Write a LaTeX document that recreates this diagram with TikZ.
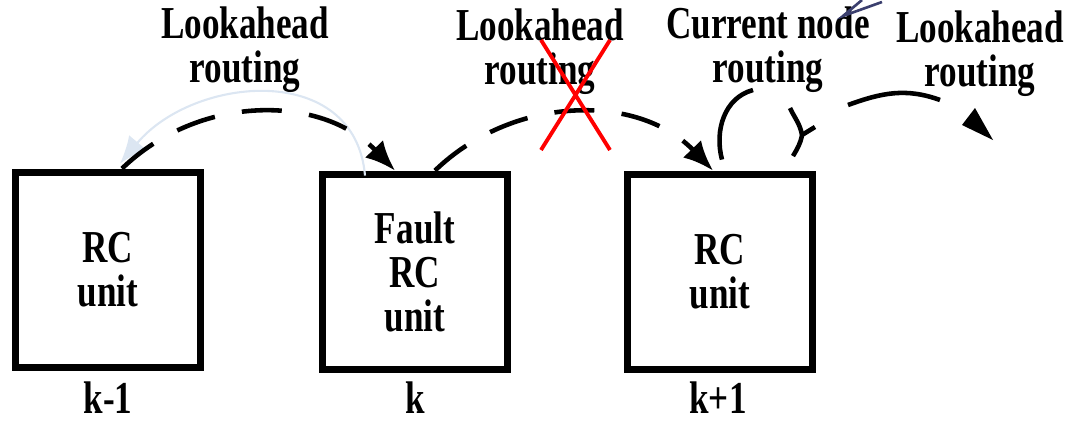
\documentclass[tikz,border=0pt]{standalone}
\usepackage{fontspec}
\setmainfont{Liberation Serif}
\usetikzlibrary{arrows.meta}
\definecolor{paleblue}{HTML}{DCE6F2}
\definecolor{inkblue}{HTML}{3B3F6E}
\newcommand{\tall}[1]{\scalebox{1}[1.3]{#1}}
\begin{document}
\begin{tikzpicture}[x=0.02cm,y=-0.02cm,
    txt/.style={align=center,font=\fontsize{20}{25}\selectfont\bfseries},
    idx/.style={font=\fontsize{20}{25}\selectfont\bfseries,inner sep=0pt},
    unit/.style={txt,draw,line width=4.5pt,minimum width=3.7cm,minimum height=3.9cm,inner sep=0pt},
    hop/.style={line width=2.6pt,dash pattern=on 0.8cm off 0.55cm,-{Latex[length=0.6cm,width=0.5cm]}},
    loop/.style={line width=2.6pt}]
    \useasboundingbox (0,0) rectangle (1066,420);
    \node[unit] (km) at (108,270) {\tall{RC}\\\tall{unit}};
    \node[unit] (k) at (415,272) {\tall{Fault}\\\tall{RC}\\\tall{unit}};
    \node[unit] (kp) at (720,272) {\tall{RC}\\\tall{unit}};
    \node[idx] (nkm) at (108,398) {\tall{k-1}};
    \node[idx] (nk) at (415,398) {\tall{k}};
    \node[idx] (nkp) at (718,398) {\tall{k+1}};
    \node[txt] (la1) at (245,50) {\tall{Lookahead}\\\tall{routing}};
    \node[txt] (la2) at (540,52) {\tall{Lookahead}\\\tall{routing}};
    \node[txt] (cur) at (768,50) {\tall{Current node}\\\tall{routing}};
    \node[txt] (la3) at (980,54) {\tall{Lookahead}\\\tall{routing}};
    % faint return arc
    \draw[paleblue,line width=1.2pt,-{Latex[length=0.55cm,width=0.45cm]}]
        ([xshift=-1cm,yshift=-0.1cm]k.north) to[out=95,in=50,looseness=1.2] ([xshift=0.24cm,yshift=0.1cm]km.north);
    \draw[hop] ([xshift=0.28cm]km.north) to[out=44,in=134] ([xshift=-0.4cm]k.north);
    \draw[hop] ([xshift=0.4cm]k.north) to[out=44,in=134] ([xshift=-0.14cm]kp.north);
    % crossed out
    \draw[red,line width=2.2pt] (541,40) -- (610,150) (610,40) -- (541,150);
    % current node routing
    \coordinate (c1) at (753,90);
    \coordinate (c2) at (790,108);
    \coordinate (c3) at (802,135);
    \draw[loop] ([xshift=0.04cm,yshift=0.22cm]kp.north) to[out=105,in=195] (c1);
    \draw[loop] (c2) to[out=-65,in=100] (c3) to[out=-100,in=60] ([xshift=1.46cm,yshift=0.29cm]kp.north);
    \draw[loop] (c3) -- (815,127);
    % next lookahead
    \coordinate (r1) at (848,105);
    \coordinate (r2) at (940,100);
    \draw[loop] (r1) to[out=20,in=160] (r2);
    \fill (962,125) -- (975,108) -- (993,140) -- cycle;
    \draw[inkblue,line width=1.5pt] (862,0) -- (843,16) -- (882,2);
\end{tikzpicture}
\end{document}
